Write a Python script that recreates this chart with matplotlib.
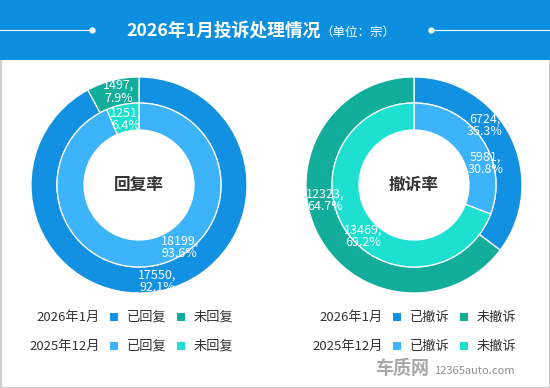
import matplotlib
matplotlib.use('Agg')
import matplotlib.pyplot as plt
import numpy as np
from matplotlib.patches import Rectangle

plt.rcParams['font.family'] = ['Noto Sans CJK SC', 'DejaVu Sans']

# 数据
TITLE = '2026年1月投诉处理情况'
UNIT = '（单位：宗）'
PERIODS = ['2026年1月', '2025年12月']

reply_labels = ['已回复', '未回复']
reply_2026_01 = [17550, 1497]
reply_2025_12 = [18199, 1251]
reply_pct_2026_01 = ['92.1%', '7.9%']
reply_pct_2025_12 = ['93.6%', '6.4%']

withdraw_labels = ['已撤诉', '未撤诉']
withdraw_2026_01 = [6724, 12323]
withdraw_2025_12 = [5981, 13469]
withdraw_pct_2026_01 = ['35.3%', '64.7%']
withdraw_pct_2025_12 = ['30.8%', '69.2%']

OUTER_COLORS = ['#1290e2', '#13ae9b']
INNER_COLORS = ['#3db3f9', '#1de0d1']
HEADER_COLOR = '#0d8fdf'

W, H = 550, 388
R_OUT, R_MID, R_HOLE = 108, 82, 55

# 标签微调 (像素)
LEFT_OFFSETS = {'outer': [(-5, 4), (3, -1)], 'inner': [(27, -5), (0, 1)]}
RIGHT_OFFSETS = {'outer': [(-14, -17), (-4, -27)], 'inner': [(15, 17), (5, 12)]}


def draw_donut(fig, cx, cy, outer, inner, outer_pct, inner_pct, center_text, offsets):
    ax = fig.add_axes([(cx - R_OUT) / W, 1 - (cy + R_OUT) / H, 2 * R_OUT / W, 2 * R_OUT / H])
    ax.axis('off')
    wp = dict(edgecolor='white', linewidth=0.9)
    ax.pie(outer, radius=1, startangle=90, counterclock=False, colors=OUTER_COLORS,
           wedgeprops=dict(width=(R_OUT - R_MID) / R_OUT, **wp))
    ax.pie(inner, radius=R_MID / R_OUT, startangle=90, counterclock=False, colors=INNER_COLORS,
           wedgeprops=dict(width=(R_MID - R_HOLE) / R_OUT, **wp))
    ax.set_xlim(-1, 1)
    ax.set_ylim(-1, 1)

    for vals, pcts, rmid, offs in [(outer, outer_pct, (R_OUT + R_MID) / 2, offsets['outer']),
                                   (inner, inner_pct, (R_MID + R_HOLE) / 2, offsets['inner'])]:
        total = sum(vals)
        start = 0.0
        for v, p, (dx, dy) in zip(vals, pcts, offs):
            mid = np.deg2rad((start + v / 2) / total * 360)
            start += v
            x = (rmid * np.sin(mid) + dx) / R_OUT
            y = (rmid * np.cos(mid) - dy) / R_OUT
            ax.text(x, y, f'{v},\n{p}', color='white', fontsize=9, ha='center', va='center',
                    linespacing=0.95)

    ax.text(0, 0, center_text, fontsize=12, fontweight='bold', color='#333333',
            ha='center', va='center')


fig = plt.figure(figsize=(W / 100, H / 100), dpi=100)
bg = fig.add_axes([0, 0, 1, 1])
bg.set_xlim(0, W)
bg.set_ylim(H, 0)
bg.axis('off')

bg.add_patch(Rectangle((0.5, 0.5), W - 1, H - 1, facecolor='white', edgecolor='#cfcfcf', lw=1.5))
bg.add_patch(Rectangle((0, 0), W, 60, facecolor=HEADER_COLOR, edgecolor='none'))
bg.plot([0, 92], [30, 30], color='white', lw=0.8)
bg.plot([92], [30], 'o', color='white', ms=3.5)
bg.plot([431, W], [30, 30], color='white', lw=0.8)
bg.plot([431], [30], 'o', color='white', ms=3.5)
bg.text(321, 31, TITLE, color='white', fontsize=12.8, fontweight='bold', ha='right', va='center')
bg.text(320, 32, UNIT, color='white', fontsize=9, ha='left', va='center')

draw_donut(fig, 139, 185, reply_2026_01, reply_2025_12, reply_pct_2026_01, reply_pct_2025_12,
           '回复率', LEFT_OFFSETS)
draw_donut(fig, 414, 185, withdraw_2026_01, withdraw_2025_12, withdraw_pct_2026_01,
           withdraw_pct_2025_12, '撤诉率', RIGHT_OFFSETS)

# 图例
rows = [317, 346]
for x0, labels in [(0, reply_labels), (283, withdraw_labels)]:
    for row_y, period, colors in zip(rows, PERIODS, [OUTER_COLORS, INNER_COLORS]):
        bg.text(x0 + 100, row_y, period, fontsize=9.5, color='#333333', ha='right', va='center')
        for k, (lab, col) in enumerate(zip(labels, colors)):
            sx = x0 + 110 + k * 67
            bg.add_patch(Rectangle((sx, row_y - 4), 8, 8, facecolor=col, edgecolor='none'))
            bg.text(sx + 17, row_y, lab, fontsize=9.5, color='#333333', ha='left', va='center')

# 水印
bg.text(375, 369, '车质网', fontsize=13, fontweight='bold', color='#a8a8a8', ha='left', va='center')
bg.text(434, 371, '12365auto.com', fontsize=8, color='#909090', ha='left', va='center')

fig.savefig('out.png', dpi=100)
